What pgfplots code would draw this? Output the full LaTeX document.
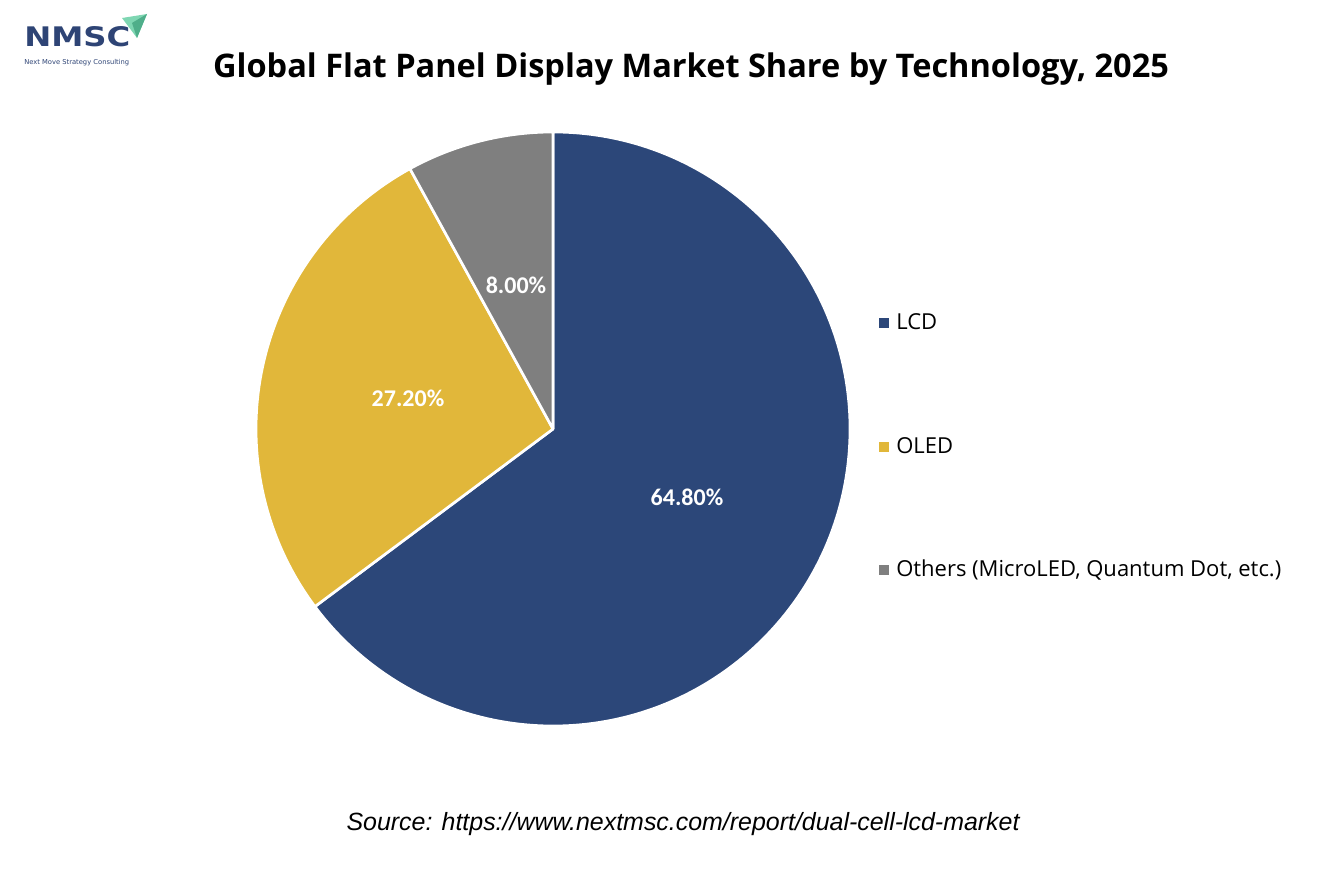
\documentclass[border=0pt]{standalone}
\usepackage{pgfplots}
\usepackage{pgfplotstable}
\pgfplotsset{compat=1.18}
\usepackage{fontspec}
\setmainfont{Carlito}
\newfontfamily\titlefont{Open Sans}
\newfontfamily\srcfont{Liberation Sans}
\newfontfamily\logofont{DejaVu Sans}
\definecolor{lcd}{HTML}{2C4779}
\definecolor{oled}{HTML}{E1B73A}
\definecolor{oth}{HTML}{7F7F7F}
\definecolor{logoblue}{HTML}{2E4475}
\definecolor{logogreen}{HTML}{7ED6B2}
\definecolor{logogreendark}{HTML}{4FAE8A}
\pgfplotstableread{
label value
LCD 64.8
OLED 27.2
Others 8.0
}\piedata
\begin{document}
\begin{tikzpicture}
\pgfplotstablegetelem{0}{value}\of\piedata \let\vA\pgfplotsretval
\pgfplotstablegetelem{1}{value}\of\piedata \let\vB\pgfplotsretval
\pgfplotstablegetelem{2}{value}\of\piedata \let\vC\pgfplotsretval
\pgfmathsetmacro\aA{90-3.6*\vA}
\pgfmathsetmacro\aB{\aA-3.6*\vB}
\pgfmathsetmacro\aC{\aB-3.6*\vC}
\path (0,0) rectangle (1000.5pt,666.75pt);
\begin{axis}[at={(0,0)},anchor=south west, scale only axis,
  width=1000.5pt, height=666.75pt,
  xmin=0,xmax=1334,ymin=0,ymax=889, hide axis, clip=false]
% pie slices
\fill[lcd, draw=white, line width=2pt, line join=round] (axis cs:553,460) -- ++(90:222.75pt) arc[start angle=90, end angle=\aA, radius=222.75pt] -- cycle;
\fill[oled, draw=white, line width=2pt, line join=round] (axis cs:553,460) -- ++(\aA:222.75pt) arc[start angle=\aA, end angle=\aB, radius=222.75pt] -- cycle;
\fill[oth, draw=white, line width=2pt, line join=round] (axis cs:553,460) -- ++(\aB:222.75pt) arc[start angle=\aB, end angle=\aC, radius=222.75pt] -- cycle;
% slice labels
\node[white, font=\fontsize{18}{20}\selectfont\bfseries] at (axis cs:687,392) {64.80\%};
\node[white, font=\fontsize{18}{20}\selectfont\bfseries] at (axis cs:408,491) {27.20\%};
\node[white, font=\fontsize{18}{20}\selectfont\bfseries] at (axis cs:516,604) {8.00\%};
% legend
\addplot[only marks, mark=square*, mark size=3.375pt, color=lcd] coordinates {(883.5,566.5)};
\addplot[only marks, mark=square*, mark size=3.375pt, color=oled] coordinates {(883.5,442.5)};
\addplot[only marks, mark=square*, mark size=3.375pt, color=oth] coordinates {(883.5,319.5)};
\node[anchor=base west, inner sep=0pt, font=\titlefont\fontsize{16.5}{19}\selectfont] at (axis cs:896,559.5) {LCD};
\node[anchor=base west, inner sep=0pt, font=\titlefont\fontsize{16.5}{19}\selectfont] at (axis cs:896,435.5) {OLED};
\node[anchor=base west, inner sep=0pt, font=\titlefont\fontsize{16.5}{19}\selectfont] at (axis cs:896,312.5) {Others (MicroLED, Quantum Dot, etc.)};
% title
\node[anchor=base, inner sep=0pt, font=\titlefont\fontsize{24.4}{28}\selectfont\bfseries] at (axis cs:691,811) {Global Flat Panel Display Market Share by Technology, 2025};
% source
\node[anchor=base, inner sep=0pt, font=\srcfont\fontsize{18.7}{22}\selectfont\itshape] at (axis cs:683,59) {Source: https://www.nextmsc.com/report/dual-cell-lcd-market};
% logo
\node[anchor=base west, inner sep=0pt, logoblue, font=\logofont\bfseries] at (axis cs:24,842) {\resizebox{79.5pt}{15pt}{NMSC}};
\node[anchor=base west, inner sep=0pt, logoblue, font=\logofont] at (axis cs:24,824) {\resizebox{78.75pt}{!}{Next Move Strategy Consulting}};
\fill[logogreen] (axis cs:122,871) -- (axis cs:147,875) -- (axis cs:137,851) -- cycle;
\fill[logogreendark] (axis cs:132,866) -- (axis cs:147,875) -- (axis cs:137,851) -- cycle;
\end{axis}
\end{tikzpicture}
\end{document}
